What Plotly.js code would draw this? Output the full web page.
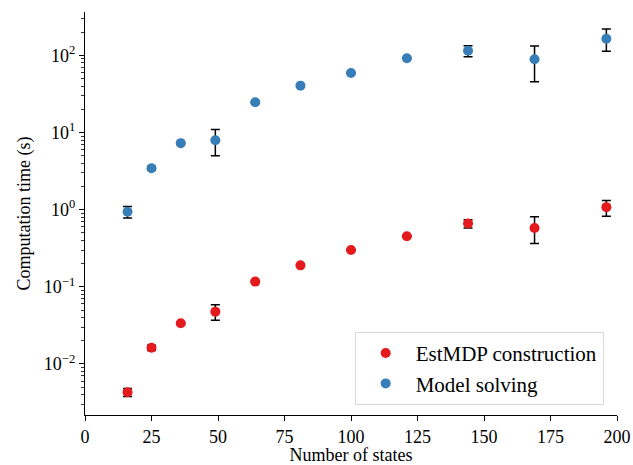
<!DOCTYPE html>
<html>
<head>
<meta charset="utf-8">
<script src="https://cdn.plot.ly/plotly-3.0.1.min.js"></script>
<style>html,body{margin:0;padding:0;background:#fff}#chart{width:633px;height:465px}</style>
</head>
<body>
<div id="chart"></div>
<script>
const states = [16, 25, 36, 49, 64, 81, 100, 121, 144, 169, 196];

const estMean  = [0.0043, 0.0162, 0.0337, 0.0477, 0.117, 0.19, 0.30, 0.453, 0.662, 0.58, 1.08];
const estUpper = [0.0048, 0.0175, 0.0345, 0.0587, 0.120, 0.193, 0.305, 0.46, 0.74, 0.81, 1.32];
const estLower = [0.0038, 0.0150, 0.0330, 0.0369, 0.114, 0.187, 0.295, 0.446, 0.58, 0.365, 0.82];

const solveMean  = [0.94, 3.45, 7.3, 7.94, 24.7, 40.6, 59.3, 92, 115, 89.4, 165];
const solveUpper = [1.10, 3.65, 7.4, 11.0, 25.1, 41.2, 60.2, 93.5, 134, 133, 221];
const solveLower = [0.78, 3.25, 7.2, 5.0, 24.3, 40.0, 58.4, 90.5, 96.5, 45.7, 113];

const yTickVals = [0.01, 0.1, 1, 10, 100];
const yTickText = ['10<sup>−2</sup>', '10<sup>−1</sup>', '10<sup>0</sup>', '10<sup>1</sup>', '10<sup>2</sup>'];

function err(mean, up, lo) {
  return {
    type: 'data', symmetric: false,
    array: mean.map((m, i) => up[i] - m),
    arrayminus: mean.map((m, i) => m - lo[i]),
    color: '#000', thickness: 1.5, width: 4.5, visible: true
  };
}

const font = {family: 'Liberation Serif, DejaVu Serif, serif', size: 18, color: '#000'};
const legFont = {family: 'Liberation Serif, DejaVu Serif, serif', size: 21, color: '#000'};

const traces = [
  {x: states, y: estMean, mode: 'markers', type: 'scatter', name: 'EstMDP construction',
   marker: {color: '#e41a1c', size: 10}, error_y: err(estMean, estUpper, estLower)},
  {x: states, y: solveMean, mode: 'markers', type: 'scatter', name: 'Model solving',
   marker: {color: '#377eb8', size: 10}, error_y: err(solveMean, solveUpper, solveLower)}
];

const layout = {
  width: 633, height: 465,
  margin: {l: 85, r: 16, t: 12, b: 50},
  paper_bgcolor: '#fff', plot_bgcolor: '#fff',
  font: font,
  showlegend: true,
  legend: {x: 0.975, y: 0.025, xanchor: 'right', yanchor: 'bottom',
           bordercolor: '#d9d9d9', borderwidth: 1, bgcolor: 'rgba(255,255,255,0.8)',
           font: legFont, itemwidth: 50, tracegroupgap: 2},
  xaxis: {
    range: [0, 200], dtick: 25, tick0: 0,
    showline: true, linecolor: '#000', linewidth: 1.2,
    ticks: 'outside', ticklen: 5, tickwidth: 1, tickcolor: '#000',
    showgrid: false, zeroline: false, mirror: false,
    title: {text: 'Number of states', font: font, standoff: 6}
  },
  yaxis: {
    type: 'log', range: [Math.log10(0.00218), Math.log10(366)],
    tickvals: yTickVals, ticktext: yTickText,
    showline: true, linecolor: '#000', linewidth: 1.2,
    ticks: 'outside', ticklen: 5, tickwidth: 1, tickcolor: '#000',
    minor: {ticks: 'outside', ticklen: 2.5, tickwidth: 0.8, tickcolor: '#000', dtick: 'D1', showgrid: false},
    showgrid: false, zeroline: false,
    title: {text: 'Computation time (s)', font: font, standoff: 8}
  }
};

Plotly.newPlot('chart', traces, layout, {displayModeBar: false, staticPlot: true});
</script>
</body>
</html>
